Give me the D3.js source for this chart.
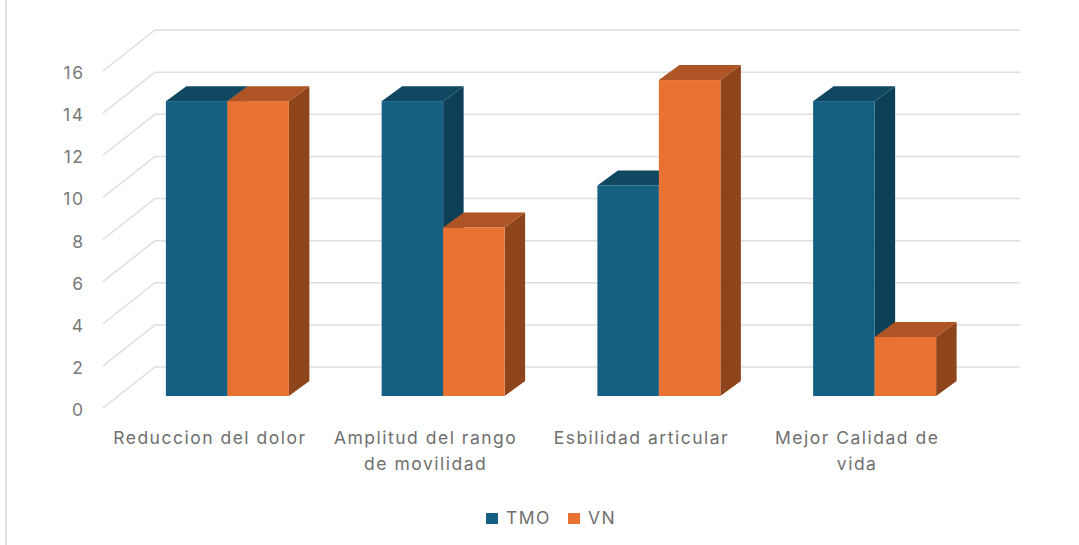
<!DOCTYPE html>
<html>
<head>
<meta charset="utf-8">
<script src="https://cdn.jsdelivr.net/npm/d3@7/dist/d3.min.js"></script>
<style>
html,body{margin:0;padding:0;background:#fff;}
svg{display:block;font-family:"Inter","Open Sans",sans-serif;}
text{font-size:17.5px;letter-spacing:1.5px;}
</style>
</head>
<body>
<svg id="chart" width="1079" height="545"></svg>
<script>
// Chart data
const categories = [
  ["Reduccion del dolor"],
  ["Amplitud del rango", "de movilidad"],
  ["Esbilidad articular"],
  ["Mejor Calidad de", "vida"]
];
const seriesNames = ["TMO", "VN"];
const tmoValues = [14, 14, 10, 14];
const vnValues = [14, 8, 15, 2.8];
const yTicks = [0, 2, 4, 6, 8, 10, 12, 14, 16];

const faceColors = {
  TMO: {front: "#156082", top: "#104862", side: "#0D3F56"},
  VN: {front: "#E97132", top: "#AF5525", side: "#8F451C"}
};

// Oblique projection: the axis plane, the bars' plane and the back wall
const wallLeft = 103, wallRight = 968;
const wallDx = 52, wallDy = -41;
const barPlaneDx = 15, barPlaneDy = -12;
const barDx = 20.5, barDy = -15;

const svg = d3.select("#chart");

const y = d3.scaleLinear().domain([0, 16]).range([408, 71]);
const xGroup = d3.scaleBand()
  .domain(d3.range(categories.length))
  .range([104.5, 967.5]);
const xSeries = d3.scaleBand()
  .domain(seriesNames)
  .range([0, 123]);
const groupInset = (xGroup.bandwidth() - xSeries.range()[1]) / 2;

// Frame edge on the left of the chart area
svg.append("line")
  .attr("x1", 6).attr("x2", 6).attr("y1", 0).attr("y2", 545)
  .attr("stroke", "#d9d9d9").attr("stroke-width", 1.5);

// Gridlines run along the side wall, then across the back wall
svg.append("g").selectAll("path")
  .data(yTicks)
  .join("path")
  .attr("fill", "none")
  .attr("stroke", "#dedede")
  .attr("stroke-width", 1.5)
  .attr("d", t => {
    const p = d3.path();
    p.moveTo(wallLeft, y(t));
    p.lineTo(wallLeft + wallDx, y(t) + wallDy);
    p.lineTo(wallRight + wallDx, y(t) + wallDy);
    return p.toString();
  });

// Value axis labels
const yAxis = d3.axisLeft(y).tickValues(yTicks).tickSize(0).tickPadding(0);
const yG = svg.append("g")
  .attr("transform", "translate(84.5,2)")
  .call(yAxis);
yG.select(".domain").remove();
yG.selectAll("text")
  .attr("fill", "#7a7a7a")
  .style("font-family", "Inter, sans-serif")
  .style("font-size", "17.5px");

// Three-dimensional columns: side and top faces, then the front
const barData = [];
categories.forEach((c, i) => {
  seriesNames.forEach((s, k) => {
    barData.push({i, s, v: (k === 0 ? tmoValues : vnValues)[i]});
  });
});

const bars = svg.append("g").selectAll("g")
  .data(barData)
  .join("g");

const geom = d => {
  const x0 = xGroup(d.i) + barPlaneDx + groupInset + xSeries(d.s);
  const x1 = x0 + xSeries.bandwidth();
  return {x0, x1, yTop: y(d.v) + barPlaneDy, yBase: y(0) + barPlaneDy};
};

bars.append("path")
  .attr("fill", d => faceColors[d.s].side)
  .attr("d", d => {
    const g = geom(d);
    return `M${g.x1},${g.yTop}L${g.x1 + barDx},${g.yTop + barDy}L${g.x1 + barDx},${g.yBase + barDy}L${g.x1},${g.yBase}Z`;
  });
bars.append("path")
  .attr("fill", d => faceColors[d.s].top)
  .attr("d", d => {
    const g = geom(d);
    return `M${g.x0},${g.yTop}L${g.x0 + barDx},${g.yTop + barDy}L${g.x1 + barDx},${g.yTop + barDy}L${g.x1},${g.yTop}Z`;
  });
bars.append("rect")
  .attr("fill", d => faceColors[d.s].front)
  .attr("x", d => geom(d).x0)
  .attr("y", d => geom(d).yTop)
  .attr("width", xSeries.bandwidth())
  .attr("height", d => geom(d).yBase - geom(d).yTop);

// Category labels, wrapped over one or two lines
svg.append("g").selectAll("text")
  .data(categories)
  .join("text")
  .attr("text-anchor", "middle")
  .attr("fill", "#6f6f6f")
  .attr("transform", (c, i) => `translate(${xGroup(i) + barPlaneDx + xGroup.bandwidth() / 2 - 17.5},444)`)
  .selectAll("tspan")
  .data(c => c)
  .join("tspan")
  .attr("x", 0)
  .attr("dy", (l, j) => j === 0 ? 0 : 26)
  .text(l => l);

// Legend
const legendX = {TMO: 486, VN: 568};
const legend = svg.append("g").selectAll("g")
  .data(seriesNames)
  .join("g")
  .attr("transform", s => `translate(${legendX[s]},513)`);
legend.append("rect")
  .attr("width", 12).attr("height", 11)
  .attr("fill", s => faceColors[s].front);
legend.append("text")
  .attr("x", 20).attr("y", 11)
  .attr("fill", "#6f6f6f")
  .text(s => s);
</script>
</body>
</html>
